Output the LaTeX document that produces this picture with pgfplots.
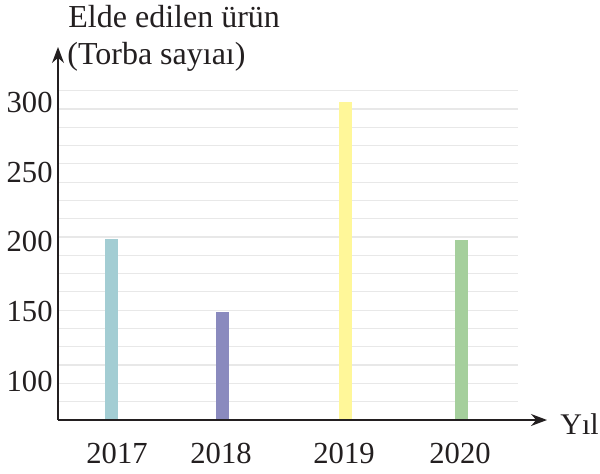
\documentclass[border=0pt]{standalone}
\usepackage{fontspec}
\setmainfont{Liberation Serif}
\usepackage{pgfplots}
\pgfplotsset{compat=1.18}
\usetikzlibrary{arrows.meta}

\definecolor{bar17}{RGB}{163,205,211}
\definecolor{bar18}{RGB}{138,138,190}
\definecolor{bar19}{RGB}{255,247,153}
\definecolor{bar20}{RGB}{165,207,156}
\definecolor{gridc}{RGB}{232,232,232}
\definecolor{ink}{RGB}{35,31,32}

\begin{document}
\fontsize{15}{18}\selectfont
\begin{tikzpicture}
\useasboundingbox (0,0) rectangle (300pt,236.5pt);
\begin{axis}[
    at={(29pt,26.5pt)}, anchor=south west,
    scale only axis,
    width=244.5pt, height=186.5pt,
    xmin=58, xmax=547,
    ymin=72.4, ymax=339.6,
    axis lines=left,
    axis line style={ink, line width=0.7pt, -{Stealth[length=8pt,width=6pt]}},
    axis on top,
    major tick length=0pt,
    xtick={117,221,344,460},
    xticklabels={2017,2018,2019,2020},
    ytick={100,150,200,250,300},
    yticklabels={100,150,200,250,300},
    /pgf/number format/assume math mode=true,
    every tick label/.append style={font=\fontsize{15.3}{18}\selectfont, text=ink},
    xticklabel style={anchor=base, inner sep=0pt, yshift=-21.5pt},
    yticklabel style={anchor=east, inner sep=0pt, xshift=-2.5pt},
    clip=true,
]
% light grid, drawn only up to the end of the plot area
\pgfplotsinvokeforeach{85.6,98.7,111.8,124.9,138.0,151.1,164.2,177.3,190.4,203.5,216.6,229.7,242.8,255.9,269.0,282.1,295.2,308.3}{
    \draw[gridc, line width=0.6pt] (axis cs:58,#1) -- (axis cs:518,#1);
}
% bars, one per year
\addplot[ybar, bar width=6.5pt, bar shift=0pt, fill=bar17, draw=none] coordinates {(111.5,202)};
\addplot[ybar, bar width=6.5pt, bar shift=0pt, fill=bar18, draw=none] coordinates {(222.5,150)};
\addplot[ybar, bar width=6.5pt, bar shift=0pt, fill=bar19, draw=none] coordinates {(345.5,300)};
\addplot[ybar, bar width=6.5pt, bar shift=0pt, fill=bar20, draw=none] coordinates {(461.5,201)};
\end{axis}
\node[anchor=base west, inner sep=0pt, text=ink, font=\fontsize{16}{19}\selectfont] at (34pt,223pt) {Elde edilen ürün};
\node[anchor=base west, inner sep=0pt, text=ink, font=\fontsize{16}{19}\selectfont] at (33.5pt,204.5pt) {(Torba sayıaı)};
\node[anchor=base west, inner sep=0pt, text=ink] at (280pt,19.5pt) {Yıl};
\end{tikzpicture}
\end{document}
